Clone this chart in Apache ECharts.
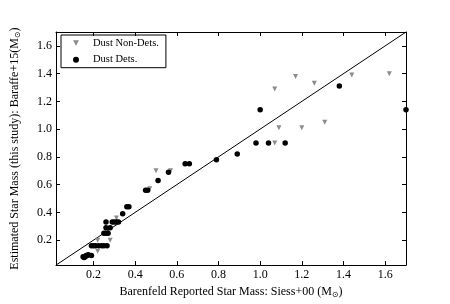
<!DOCTYPE html>
<html><head><meta charset="utf-8">
<script src="https://cdn.jsdelivr.net/npm/echarts@6/dist/echarts.min.js"></script>
<style>html,body{margin:0;padding:0;background:#fff}#c{width:450px;height:304px}</style>
</head><body><div id="c"></div>
<script>
// Dust detections: [Barenfeld Siess+00 mass, Estimated Baraffe+15 mass]
const dustDets = [
  [0.15,0.08],[0.155,0.075],[0.16,0.08],[0.165,0.09],[0.17,0.09],[0.175,0.095],[0.19,0.09],
  [0.19,0.16],[0.20,0.16],[0.21,0.16],[0.225,0.16],[0.24,0.16],[0.25,0.16],[0.265,0.16],
  [0.25,0.25],[0.26,0.25],[0.27,0.25],
  [0.26,0.29],[0.28,0.29],
  [0.26,0.33],[0.29,0.33],[0.30,0.33],[0.31,0.33],[0.32,0.33],
  [0.34,0.39],[0.36,0.44],[0.37,0.44],
  [0.45,0.56],[0.46,0.56],[0.51,0.63],[0.56,0.69],[0.64,0.75],[0.66,0.75],
  [0.79,0.78],[0.89,0.82],[0.98,0.90],[1.04,0.90],[1.12,0.90],
  [1.00,1.14],[1.38,1.31],[1.70,1.14]
];
// Dust non-detections
const dustNonDets = [
  [0.22,0.12],[0.22,0.20],[0.28,0.20],[0.31,0.36],[0.47,0.57],[0.50,0.70],[0.57,0.70],
  [1.07,0.90],[1.09,1.01],[1.20,1.01],[1.31,1.05],
  [1.07,1.29],[1.17,1.38],[1.26,1.33],[1.44,1.39],[1.62,1.40]
];
const oneToOne = [[0.02,0.02],[1.7,1.7]];
const tickValues = [0.2,0.4,0.6,0.8,1.0,1.2,1.4,1.6];
const axisMin = 0.02, axisMax = 1.7;

const FONT = 'Liberation Serif';
const triDown = 'path://M0,0 L10,0 L5,9 Z';
const fmt = v => v.toFixed(1);
const baseAxis = (extra) => Object.assign({
  type: 'value', min: axisMin, max: axisMax,
  splitLine: {show: false},
  axisLine: {show: true, onZero: false, lineStyle: {color: '#000', width: 1}},
  axisTick: {show: true, inside: true, length: 4, customValues: tickValues, lineStyle: {color: '#000'}},
  axisLabel: {show: true, customValues: tickValues, formatter: fmt, color: '#000', fontFamily: FONT, fontSize: 12, margin: 4}
}, extra);

const chart = echarts.init(document.getElementById('c'), null, {renderer: 'canvas'});
chart.setOption({
  animation: false,
  grid: {left: 56, right: 44, top: 32, bottom: 31},
  legend: {
    left: 61, top: 35, orient: 'vertical',
    padding: [2, 7, 2, 12], itemGap: 4.7,
    borderColor: '#000', borderWidth: 1,
    itemWidth: 6, itemHeight: 6,
    textStyle: {fontFamily: FONT, fontSize: 10.5, lineHeight: 12, color: '#000', padding: [0, 0, 0, 9]},
    data: [{name: 'Dust Non-Dets.', icon: triDown}, {name: 'Dust Dets.', icon: 'circle'}]
  },
  xAxis: [
    baseAxis({
      name: 'Barenfeld Reported Star Mass: Siess+00 (M{s|⊙})', nameLocation: 'middle', nameGap: 19,
      nameTextStyle: {fontFamily: FONT, fontSize: 12, color: '#000', rich: {s: {fontSize: 8, fontFamily: 'DejaVu Sans', padding: [6,0,0,0]}}}
    }),
    baseAxis({position: 'top', axisLabel: {show: false}})
  ],
  yAxis: [
    baseAxis({
      name: 'Estimated Star Mass (this study): Baraffe+15(M{s|⊙})', nameLocation: 'middle', nameGap: 34,
      nameTextStyle: {fontFamily: FONT, fontSize: 12, color: '#000', rich: {s: {fontSize: 8, fontFamily: 'DejaVu Sans', padding: [6,0,0,0]}}}
    }),
    baseAxis({position: 'right', axisLabel: {show: false}})
  ],
  series: [
    {name: 'one-to-one', type: 'line', data: oneToOne, symbol: 'none', silent: true,
     lineStyle: {color: '#000', width: 1}, z: 1},
    {name: 'Dust Non-Dets.', type: 'scatter', data: dustNonDets, symbol: triDown, symbolSize: [5, 5],
     itemStyle: {color: '#8c8c8c', opacity: 1}, z: 2},
    {name: 'Dust Dets.', type: 'scatter', data: dustDets, symbol: 'circle', symbolSize: 5.5,
     itemStyle: {color: '#000', opacity: 1}, z: 3}
  ]
});
</script></body></html>
